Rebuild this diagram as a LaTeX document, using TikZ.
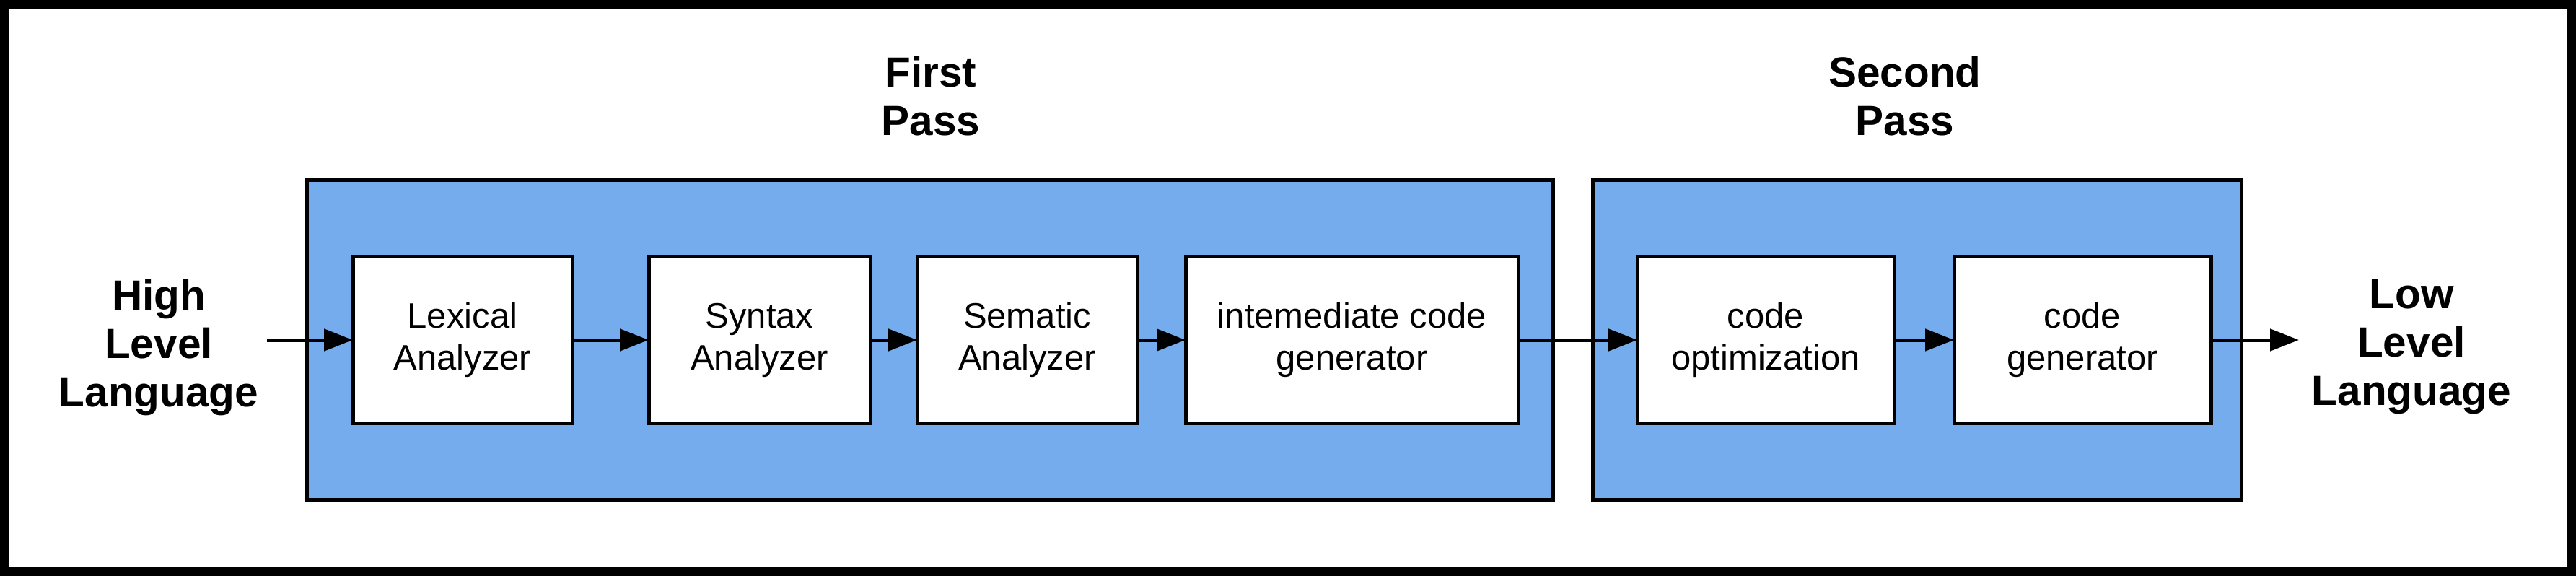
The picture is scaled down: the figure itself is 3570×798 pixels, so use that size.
\documentclass[tikz,border=0pt]{standalone}
\usepackage{fontspec}
\setmainfont{Liberation Sans}
\usetikzlibrary{arrows.meta}
\definecolor{passblue}{RGB}{116,172,238}
\begin{document}
\begin{tikzpicture}[x=0.2pt,y=-0.2pt,
  passbox/.style={draw=black,line width=1pt,fill=passblue,inner sep=0pt,outer sep=0pt,minimum height=88.4pt},
  stagebox/.style={draw=black,line width=1pt,fill=white,inner sep=0pt,outer sep=0pt,minimum height=46pt,align=center,font=\fontsize{9.8pt}{11.6pt}\selectfont},
  biglabel/.style={inner sep=0pt,align=center,font=\fontsize{11.7pt}{13.4pt}\selectfont\bfseries},
  flow/.style={line width=1pt,-{Triangle[length=8pt,width=6pt]}}]
\useasboundingbox (0,0) rectangle (3570,798);
\draw[line width=2.4pt] (6,6) rectangle (3564,792);
% pass containers
\node[passbox,minimum width=345.2pt] (pass1) at (1289,471) {};
\node[passbox,minimum width=179.8pt] (pass2) at (2656.5,471) {};
% titles
\node[biglabel] (t1) at (1290,133) {First\\Pass};
\node[biglabel] (t2) at (2640,133) {Second\\Pass};
% stages
\node[stagebox,minimum width=60.8pt] (lex) at (641,471) {Lexical\\Analyzer};
\node[stagebox,minimum width=61.4pt] (syn) at (1052.5,471) {Syntax\\Analyzer};
\node[stagebox,minimum width=61pt] (sem) at (1423.5,471) {Sematic\\Analyzer};
\node[stagebox,minimum width=92.2pt] (icg) at (1873.5,471) {intemediate code\\generator};
\node[stagebox,minimum width=71.2pt] (opt) at (2447,471) {code\\optimization};
\node[stagebox,minimum width=71.2pt] (gen) at (2886,471) {code\\generator};
% input / output
\node[biglabel] (hll) at (220,481) {High\\Level\\Language};
\node[biglabel] (lll) at (3342,481) {Low\\Level\\Language};
\coordinate (inStart) at (370,471);
\coordinate (outEnd) at (3186,471);
% connectors
\draw[flow] (inStart) -- (lex.west);
\draw[flow] (lex) -- (syn);
\draw[flow] (syn) -- (sem);
\draw[flow] (sem) -- (icg);
\draw[flow] (icg) -- (opt);
\draw[flow] (opt) -- (gen);
\draw[flow] (gen.east) -- (outEnd);
\end{tikzpicture}
\end{document}
